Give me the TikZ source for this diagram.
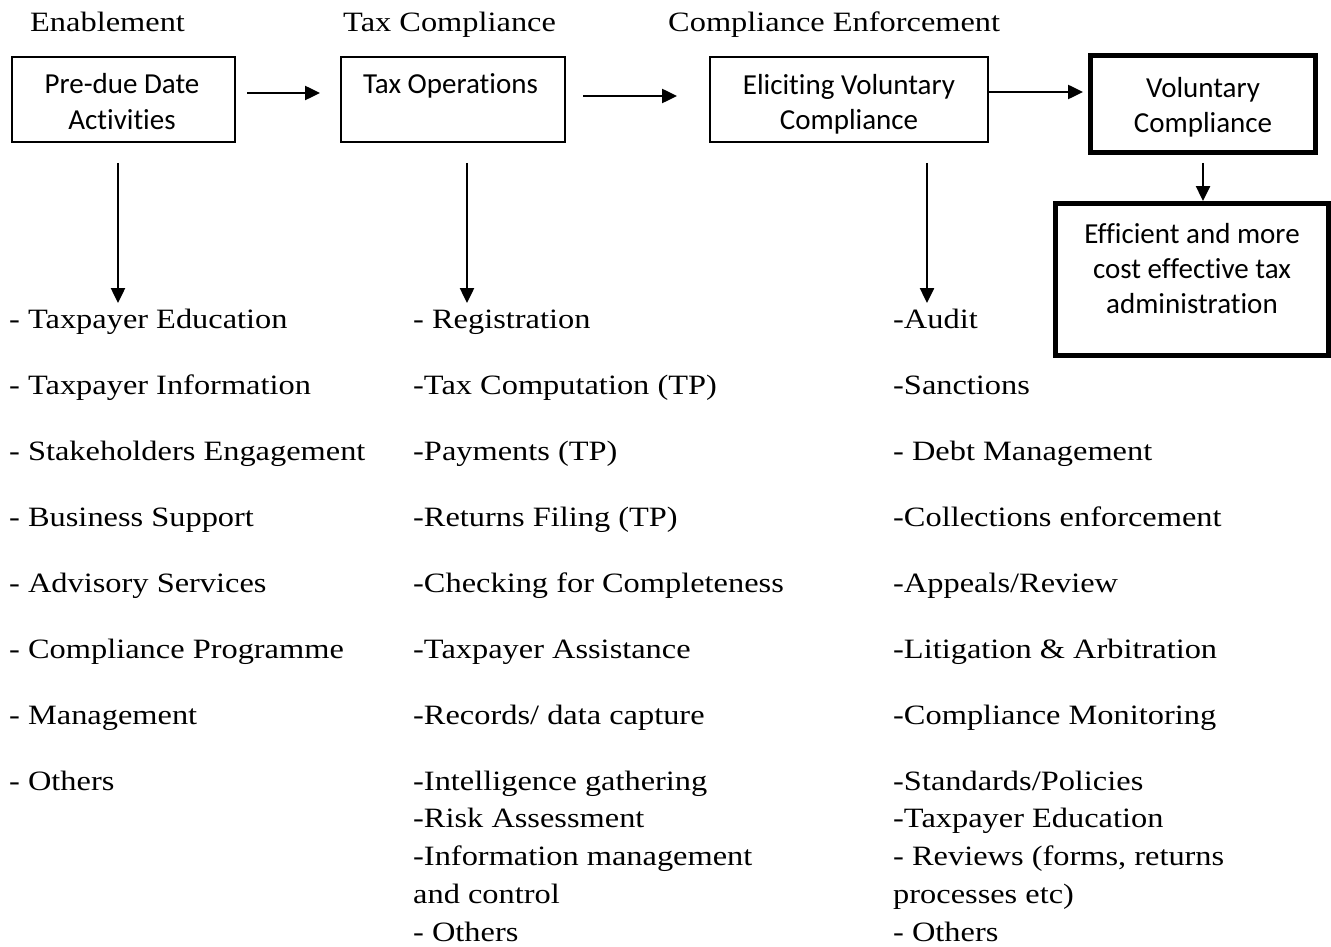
\documentclass[tikz,border=0pt]{standalone}
\usepackage{fontspec}
\setmainfont{Liberation Serif}
\newfontfamily\boxfont{Carlito}[Ligatures=NoCommon]
\newfontfamily\listfont{Liberation Serif}[FakeStretch=1.157]
\usetikzlibrary{arrows.meta}
\begin{document}
\begin{tikzpicture}[x=1pt,y=-1pt,
  every node/.style={inner sep=0pt},
  thinbox/.style={draw=black, line width=2pt, outer sep=1pt},
  thickbox/.style={draw=black, line width=5pt, outer sep=2.5pt},
  boxtext/.style={font=\boxfont\fontsize{29}{35}\selectfont, anchor=base},
  listtext/.style={font=\listfont\fontsize{28}{38}\selectfont, anchor=base west},
  flow/.style={line width=2.5pt, -{Triangle[length=15pt,width=14pt]}}]

\fill[white] (0,0) rectangle (1331,947);
\useasboundingbox (0,0) rectangle (1331,947);

% stage headings
\node[listtext] (hEnable)  at (30,32)  {Enablement};
\node[listtext] (hTax)     at (343,32) {Tax Compliance};
\node[listtext] (hEnforce) at (668,32) {Compliance Enforcement};

% process boxes
\node[thinbox, minimum width=223pt, minimum height=85pt] (box1) at (123.5,99.5) {};
\node[thinbox, minimum width=224pt, minimum height=85pt] (box2) at (453,99.5) {};
\node[thinbox, minimum width=278pt, minimum height=85pt] (box3) at (849,99.5) {};
\node[thickbox, minimum width=225pt, minimum height=97pt] (box4) at (1203,104) {};
\node[thickbox, minimum width=273pt, minimum height=152pt] (box5) at (1192,279.5) {};

% box labels
\node[boxtext] (t1a) at (122,94)  {Pre-due Date};
\node[boxtext] (t1b) at (122,130) {Activities};
\node[boxtext] (t2a) at (450.5,94) {Tax Operations};
\node[boxtext] (t3a) at (849,95)  {Eliciting Voluntary};
\node[boxtext] (t3b) at (849,130) {Compliance};
\node[boxtext] (t4a) at (1203,98)  {Voluntary};
\node[boxtext] (t4b) at (1203,133) {Compliance};
\node[boxtext] (t5a) at (1192,243) {Efficient and more};
\node[boxtext] (t5b) at (1192,278) {cost effective tax};
\node[boxtext] (t5c) at (1192,313) {administration};

% arrow end points
\coordinate (h1s) at (247,93);  \coordinate (h1e) at (320,93);
\coordinate (h2s) at (583,96);  \coordinate (h2e) at (677,96);
\coordinate (h3s) at (989,92);  \coordinate (h3e) at (1083,92);
\coordinate (v1s) at (118,163); \coordinate (v1e) at (118,303);
\coordinate (v2s) at (467,163); \coordinate (v2e) at (467,303);
\coordinate (v3s) at (927,163); \coordinate (v3e) at (927,303);
\coordinate (v4s) at (1203,163);

\draw[flow] (h1s) -- (h1e);
\draw[flow] (h2s) -- (h2e);
\draw[flow] (h3s) -- (h3e);
\draw[flow] (v1s) -- (v1e);
\draw[flow] (v2s) -- (v2e);
\draw[flow] (v3s) -- (v3e);
\draw[flow] (v4s) -- (v4s |- box5.north);

% enablement activities
\node[listtext] (c1r1) at (9,328) {- Taxpayer Education};
\node[listtext] (c1r2) at (9,394) {- Taxpayer Information};
\node[listtext] (c1r3) at (9,460) {- Stakeholders Engagement};
\node[listtext] (c1r4) at (9,526) {- Business Support};
\node[listtext] (c1r5) at (9,592) {- Advisory Services};
\node[listtext] (c1r6) at (9,658) {- Compliance Programme};
\node[listtext] (c1r7) at (9,724) {- Management};
\node[listtext] (c1r8) at (9,790) {- Others};

% tax operations activities
\node[listtext] (c2r1) at (413,328) {- Registration};
\node[listtext] (c2r2) at (413,394) {-Tax Computation (TP)};
\node[listtext] (c2r3) at (413,460) {-Payments (TP)};
\node[listtext] (c2r4) at (413,526) {-Returns Filing (TP)};
\node[listtext] (c2r5) at (413,592) {-Checking for Completeness};
\node[listtext] (c2r6) at (413,658) {-Taxpayer Assistance};
\node[listtext] (c2r7) at (413,724) {-Records/ data capture};
\node[listtext] (c2r8) at (413,790) {-Intelligence gathering};
\node[listtext] (c2r9) at (413,827) {-Risk Assessment};
\node[listtext] (c2r10) at (413,865) {-Information management};
\node[listtext] (c2r11) at (413,903) {and control};
\node[listtext] (c2r12) at (413,941) {- Others};

% enforcement activities
\node[listtext] (c3r1) at (893,328) {-Audit};
\node[listtext] (c3r2) at (893,394) {-Sanctions};
\node[listtext] (c3r3) at (893,460) {- Debt Management};
\node[listtext] (c3r4) at (893,526) {-Collections enforcement};
\node[listtext] (c3r5) at (893,592) {-Appeals/Review};
\node[listtext] (c3r6) at (893,658) {-Litigation \& Arbitration};
\node[listtext] (c3r7) at (893,724) {-Compliance Monitoring};
\node[listtext] (c3r8) at (893,790) {-Standards/Policies};
\node[listtext] (c3r9) at (893,827) {-Taxpayer Education};
\node[listtext] (c3r10) at (893,865) {- Reviews (forms, returns};
\node[listtext] (c3r11) at (893,903) {processes etc)};
\node[listtext] (c3r12) at (893,941) {- Others};
\end{tikzpicture}
\end{document}
